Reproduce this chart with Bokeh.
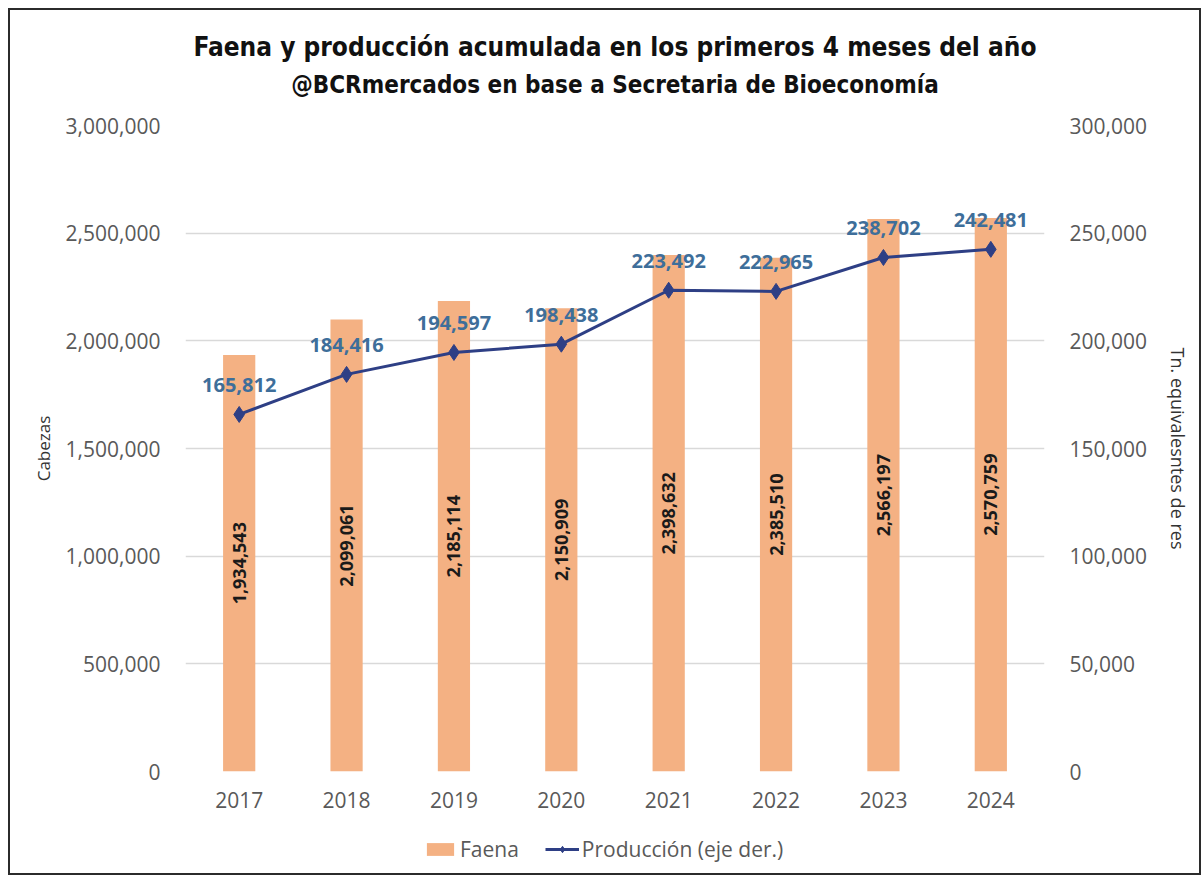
from bokeh.plotting import figure
from bokeh.layouts import column
from bokeh.models import (ColumnDataSource, Range1d, LinearAxis, FixedTicker,
                          NumeralTickFormatter, Title, Legend, LegendItem, FactorRange)
from bokeh.core.properties import value
from bokeh.embed import file_html
from bokeh.resources import INLINE
import math

years = ["2017", "2018", "2019", "2020", "2021", "2022", "2023", "2024"]
faena = [1934543, 2099061, 2185114, 2150909, 2398632, 2385510, 2566197, 2570759]
produccion = [165812, 184416, 194597, 198438, 223492, 222965, 238702, 242481]
left_ticks = [0, 500000, 1000000, 1500000, 2000000, 2500000, 3000000]
right_ticks = [0, 50000, 100000, 150000, 200000, 250000, 300000]

title_text = "Faena y producción acumulada en los primeros 4 meses del año"
subtitle_text = "@BCRmercados en base a Secretaria de Bioeconomía"
legend_labels = ["Faena", "Producción (eje der.)"]

FONT = "Open Sans"
NARROW = "DejaVu Sans Condensed"
BAR_COLOR = "#F4B183"
LINE_COLOR = "#2E3F85"
PLABEL_COLOR = "#3E6E9A"
TICK_COLOR = "#595959"
BORDER = "2px solid #2b2b2b"

src = ColumnDataSource(dict(
    year=years,
    faena=faena,
    faena_half=[v / 2 for v in faena],
    faena_lbl=[f"{v:,}" for v in faena],
    prod=produccion,
    prod_lbl=[f"{v:,}" for v in produccion],
))

p = figure(x_range=FactorRange(*years), y_range=Range1d(0, 3000000),
           width=1193, height=822, output_backend="svg", toolbar_location=None,
           min_border_left=175, min_border_right=159, min_border_bottom=61,
           min_border_top=115)
p.styles = {"border-top": BORDER, "border-left": BORDER, "border-right": BORDER}
p.extra_y_ranges = {"prod": Range1d(0, 300000)}
p.outline_line_color = None
p.background_fill_color = "white"
p.border_fill_color = "white"

# titles
p.add_layout(Title(text=subtitle_text, align="center", text_font=NARROW,
                   text_font_size="24px", text_font_style="bold",
                   text_color="#111111", standoff=54), "above")
p.add_layout(Title(text=title_text, align="center", text_font=NARROW,
                   text_font_size="26px", text_font_style="bold",
                   text_color="#111111", standoff=-40), "above")

bars = p.vbar(x="year", top="faena", width=0.3, source=src,
              fill_color=BAR_COLOR, line_color=None)
p.text(x="year", y="faena_half", text="faena_lbl", source=src, angle=math.pi / 2,
       text_align="center", text_baseline="middle", text_font=value(FONT),
       text_font_size="18px", text_font_style="bold", text_color="#1a1a1a")

p.line(x="year", y="prod", source=src, y_range_name="prod",
       line_color=LINE_COLOR, line_width=3)
p.scatter(x="year", y="prod", source=src, y_range_name="prod",
          marker="diamond", size=16, fill_color=LINE_COLOR, line_color=LINE_COLOR)
p.text(x="year", y="prod", text="prod_lbl", source=src, y_range_name="prod",
       y_offset=-29, text_align="center", text_baseline="middle",
       text_font=value(FONT), text_font_size="20px", text_font_style="bold",
       text_color=PLABEL_COLOR)

# axes
p.yaxis.ticker = FixedTicker(ticks=left_ticks)
p.yaxis.formatter = NumeralTickFormatter(format="0,0")
p.yaxis.axis_label = "Cabezas"
right = LinearAxis(y_range_name="prod", ticker=FixedTicker(ticks=right_ticks),
                   formatter=NumeralTickFormatter(format="0,0"),
                   axis_label="Tn. equivalesntes de res")
p.add_layout(right, "right")

for ax in [p.yaxis[0], right, p.xaxis[0]]:
    ax.axis_line_color = None
    ax.major_tick_line_color = None
    ax.minor_tick_line_color = None
    ax.major_tick_out = 0
    ax.major_tick_in = 0
    ax.minor_tick_out = 0
    ax.major_label_text_font = FONT
    ax.major_label_text_font_size = "21px"
    ax.major_label_text_color = TICK_COLOR
    ax.axis_label_text_font = FONT
    ax.axis_label_text_font_style = "normal"
    ax.axis_label_text_color = "#333333"

p.yaxis[0].major_label_standoff = 25
right.major_label_standoff = 25
p.xaxis.major_label_standoff = 20
p.yaxis[0].axis_label_text_font_size = "17px"
right.axis_label_text_font_size = "18px"
p.yaxis[0].axis_label_standoff = 8
right.axis_label_standoff = 16

p.xgrid.grid_line_color = None
p.ygrid.grid_line_color = "#D9D9D9"
p.ygrid.grid_line_width = 1.5

# legend strip below the chart (legend inside its own small figure)
nan = float("nan")
lg = figure(width=1193, height=45, output_backend="svg", toolbar_location=None,
            x_range=Range1d(0, 1), y_range=Range1d(0, 1), min_border=0)
lg.styles = {"border-bottom": BORDER, "border-left": BORDER, "border-right": BORDER}
lg.axis.visible = False
lg.grid.grid_line_color = None
lg.outline_line_color = None
lg.border_fill_color = "white"
r_bar = lg.vbar(x=[nan], top=[nan], width=0.3, fill_color=BAR_COLOR, line_color=None)
r_line = lg.line(x=[nan, nan], y=[nan, nan], line_color=LINE_COLOR, line_width=3)
r_pts = lg.scatter(x=[nan], y=[nan], marker="diamond", size=15,
                   fill_color=LINE_COLOR, line_color=LINE_COLOR)
legend = Legend(items=[LegendItem(label=legend_labels[0], renderers=[r_bar]),
                       LegendItem(label=legend_labels[1], renderers=[r_line, r_pts])],
                orientation="horizontal", location=(238, 12),
                label_text_font=FONT, label_text_font_size="21px",
                label_text_color=TICK_COLOR, border_line_color=None,
                background_fill_alpha=0,
                glyph_width=34, glyph_height=16, spacing=26, label_standoff=3,
                margin=0, padding=2)
lg.add_layout(legend)

layout = column(p, lg, spacing=0)
layout.margin = (8, 0, 0, 8)

open("out.html", "w").write(file_html(layout, INLINE))
